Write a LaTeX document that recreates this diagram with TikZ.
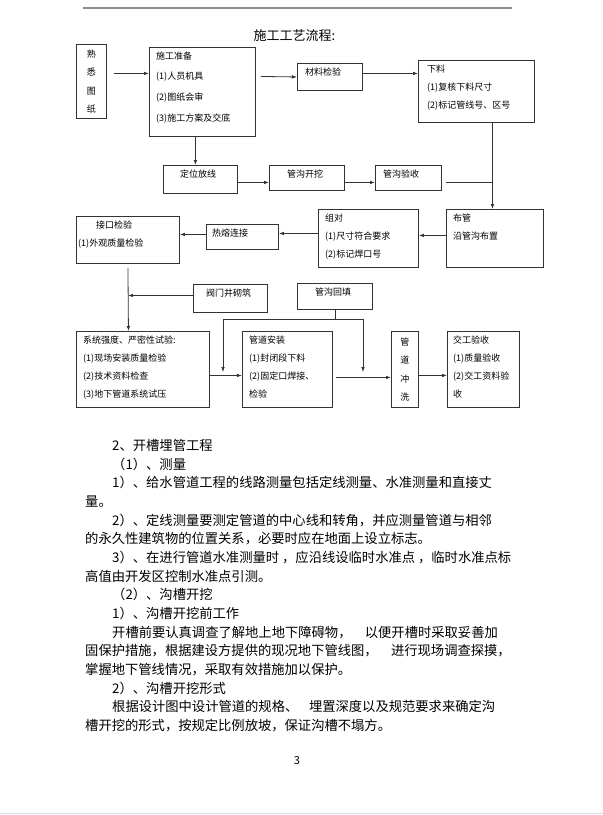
\documentclass[tikz,border=0pt]{standalone}
\usepackage{fontspec}
\setmainfont{Noto Sans CJK SC}
\usetikzlibrary{arrows.meta}
\definecolor{pline}{HTML}{333333}
\definecolor{prule}{HTML}{8C8C8C}

\begin{document}
\begin{tikzpicture}[x=1pt,y=-1pt,
  box/.style={draw=pline,line width=0.9pt,anchor=north west,inner sep=0pt},
  txt/.style={anchor=north west,align=left,inner xsep=7pt,inner ysep=4.5pt,
              font=\fontsize{9}{18}\selectfont},
  vtxt/.style={align=center,font=\fontsize{9}{18.3}\selectfont},
  ln/.style={draw=pline,line width=0.8pt},
  ar/.style={-{Latex[length=5pt,width=3.6pt]},draw=pline,line width=0.8pt},
  body/.style={anchor=north west,inner sep=0pt,align=left,font=\fontsize{13.3}{18.67}\selectfont}]

\fill[white] (0,0) rectangle (603,815);
\useasboundingbox (0,0) rectangle (603,815);

% ---- page furniture ------------------------------------------------------
\draw[prule,line width=1.1pt] (83,8) -- (512,8);
\draw[gray!25,line width=0.8pt] (0,813) -- (603,813);
\node[anchor=west,font=\fontsize{13}{13}\selectfont] (title) at (250,36) {施工工艺流程:};

% ---- first row -----------------------------------------------------------
\node[box,vtxt,minimum width=30pt,minimum height=74pt] (fam) at (76,44) {熟\\悉\\图\\纸};
\node[box,minimum width=106pt,minimum height=89pt,
  label={[txt,font=\fontsize{9}{20.7}\selectfont]north west:{施工准备\\(1)人员机具\\(2)图纸会审\\(3)施工方案及交底}}]
  (prep) at (149,47) {};
\node[box,minimum width=65pt,minimum height=27pt,
  label={[txt,xshift=1pt]north west:{材料检验}}] (mat) at (297,63) {};
\node[box,minimum width=116pt,minimum height=62pt,
  label={[txt,xshift=2pt]north west:{下料\\(1)复核下料尺寸\\(2)标记管线号、区号}}]
  (cut) at (418,60) {};

% ---- second row: setting out and trench ----------------------------------
\node[box,minimum width=74pt,minimum height=28pt,
  label={[txt,xshift=10pt]north west:{定位放线}}] (loc) at (163,165) {};
\node[box,minimum width=75pt,minimum height=25pt,
  label={[txt,xshift=11pt]north west:{管沟开挖}}] (dig) at (269,165) {};
\node[box,minimum width=66pt,minimum height=25pt,
  label={[txt,xshift=1pt]north west:{管沟验收}}] (chk) at (375,165) {};

% ---- third row: laying, runs right to left -------------------------------
\node[box,minimum width=97pt,minimum height=58pt,
  label={[txt]north west:{布管\\沿管沟布置}}] (lay) at (446,209) {};
\node[box,minimum width=100pt,minimum height=58pt,
  label={[txt]north west:{组对\\(1)尺寸符合要求\\(2)标记焊口号}}] (pair) at (318,209) {};
\node[box,minimum width=72pt,minimum height=25pt,
  label={[txt,xshift=-1pt]north west:{热熔连接}}] (fuse) at (206,224) {};
\node[box,minimum width=103pt,minimum height=47pt,
  label={[txt,xshift=-5pt]north west:{\hspace*{18pt}接口检验\\(1)外观质量检验}}]
  (joint) at (76,216) {};

% ---- side jobs -------------------------------------------------------------
\node[box,minimum width=74pt,minimum height=28pt,
  label={[txt,xshift=6pt]north west:{阀门井砌筑}}] (valve) at (193,284) {};
\node[box,minimum width=75pt,minimum height=26pt,
  label={[txt,xshift=11pt]north west:{管沟回填}}] (fill) at (297,283) {};

% ---- last row ------------------------------------------------------------
\node[box,minimum width=133pt,minimum height=76pt,
  label={[txt]north west:{系统强度、严密性试验:\\(1)现场安装质量检验\\(2)技术资料检查\\(3)地下管道系统试压}}]
  (test) at (76,331) {};
\node[box,minimum width=90pt,minimum height=76pt,
  label={[txt]north west:{管道安装\\(1)封闭段下料\\(2)固定口焊接、\\检验}}]
  (inst) at (242,331) {};
\node[box,vtxt,minimum width=27pt,minimum height=76pt] (flush) at (391,331) {管\\道\\冲\\洗};
\node[box,minimum width=72pt,minimum height=76pt,
  label={[txt,xshift=-1pt]north west:{交工验收\\(1)质量验收\\(2)交工资料验\\收}}]
  (acc) at (447,331) {};

% ---- connectors ------------------------------------------------------------
\draw[ar] ([xshift=7pt,yshift=8pt]fam.east) -- ([yshift=18.5pt]prep.west);
\draw[ar] ([xshift=5pt,yshift=15.5pt]prep.east) -- (mat.west);
\draw[ar] ([yshift=3.5pt]mat.east) -- ([yshift=18pt]cut.west);
\draw[ar] ([xshift=-7pt]prep.south) -- ([xshift=-5pt]loc.north);
\draw[ar] ([yshift=-3pt]loc.east) -- ([yshift=-4.5pt]dig.west);
\draw[ar] ([yshift=-4.5pt]dig.east) -- ([yshift=-4.5pt]chk.west);
\draw[ar] ([xshift=16pt]cut.south) coordinate (drop) -- ([xshift=-2.5pt]lay.north);
\draw[ln] ([xshift=4pt,yshift=-4.5pt]chk.east) coordinate (chkout) -- (chkout -| drop);
\draw[ar] ([yshift=3pt]lay.west) -- ([yshift=3pt]pair.east);
\draw[ar] ([yshift=5pt]pair.west) -- ([yshift=3.5pt]fuse.east);
\draw[ar] ([yshift=2.5pt]fuse.west) -- ([yshift=5.5pt]joint.east);
\draw[ar] ([yshift=-4pt]joint.south) -- ([xshift=-14.5pt]test.north);
\draw[ar] ([yshift=3pt]valve.west) coordinate (valveout) -- (valveout -| joint.south);
\coordinate (fillL) at (223,372);
\coordinate (fillR) at (363,372);
\draw[ln] (fill.south) -- ++(0,9) coordinate (fillsplit);
\draw[ar] (fillsplit) -| (fillL);
\draw[ar] (fillsplit) -| (fillR);
\draw[ar] ([yshift=-6pt]test.east) -- ([yshift=-6pt]inst.west);
\draw[ar] ([xshift=3pt,yshift=-8pt]inst.east) -- ([yshift=-8pt]flush.west);
\draw[ar] ([yshift=-6pt]flush.east) -- ([yshift=-6pt]acc.west);

% ---- running text under the chart ------------------------------------------
\node[body] (txtbody) at (85,439) {%
\hspace*{27pt}2、开槽埋管工程\\%
\hspace*{27pt}（1）、测量\\%
\hspace*{27pt}1）、给水管道工程的线路测量包括定线测量、水准测量和直接丈\\%
量。\\%
\hspace*{27pt}2）、定线测量要测定管道的中心线和转角，并应测量管道与相邻\\%
的永久性建筑物的位置关系，必要时应在地面上设立标志。\\%
\hspace*{27pt}3）、在进行管道水准测量时 ，应沿线设临时水准点 ，临时水准点标\\%
高值由开发区控制水准点引测。\\%
\hspace*{27pt}（2）、沟槽开挖\\%
\hspace*{27pt}1）、沟槽开挖前工作\\%
\hspace*{27pt}开槽前要认真调查了解地上地下障碍物，\hspace{1em}以便开槽时采取妥善加\\%
固保护措施，根据建设方提供的现况地下管线图，\hspace{1em}进行现场调查探摸，\\%
掌握地下管线情况，采取有效措施加以保护。\\%
\hspace*{27pt}2）、沟槽开挖形式\\%
\hspace*{27pt}根据设计图中设计管道的规格、\hspace{0.8em}埋置深度以及规范要求来确定沟\\%
槽开挖的形式，按规定比例放坡，保证沟槽不塌方。};
\node[font=\fontsize{11}{11}\selectfont] (pgno) at (297,761) {3};
\end{tikzpicture}
\end{document}
